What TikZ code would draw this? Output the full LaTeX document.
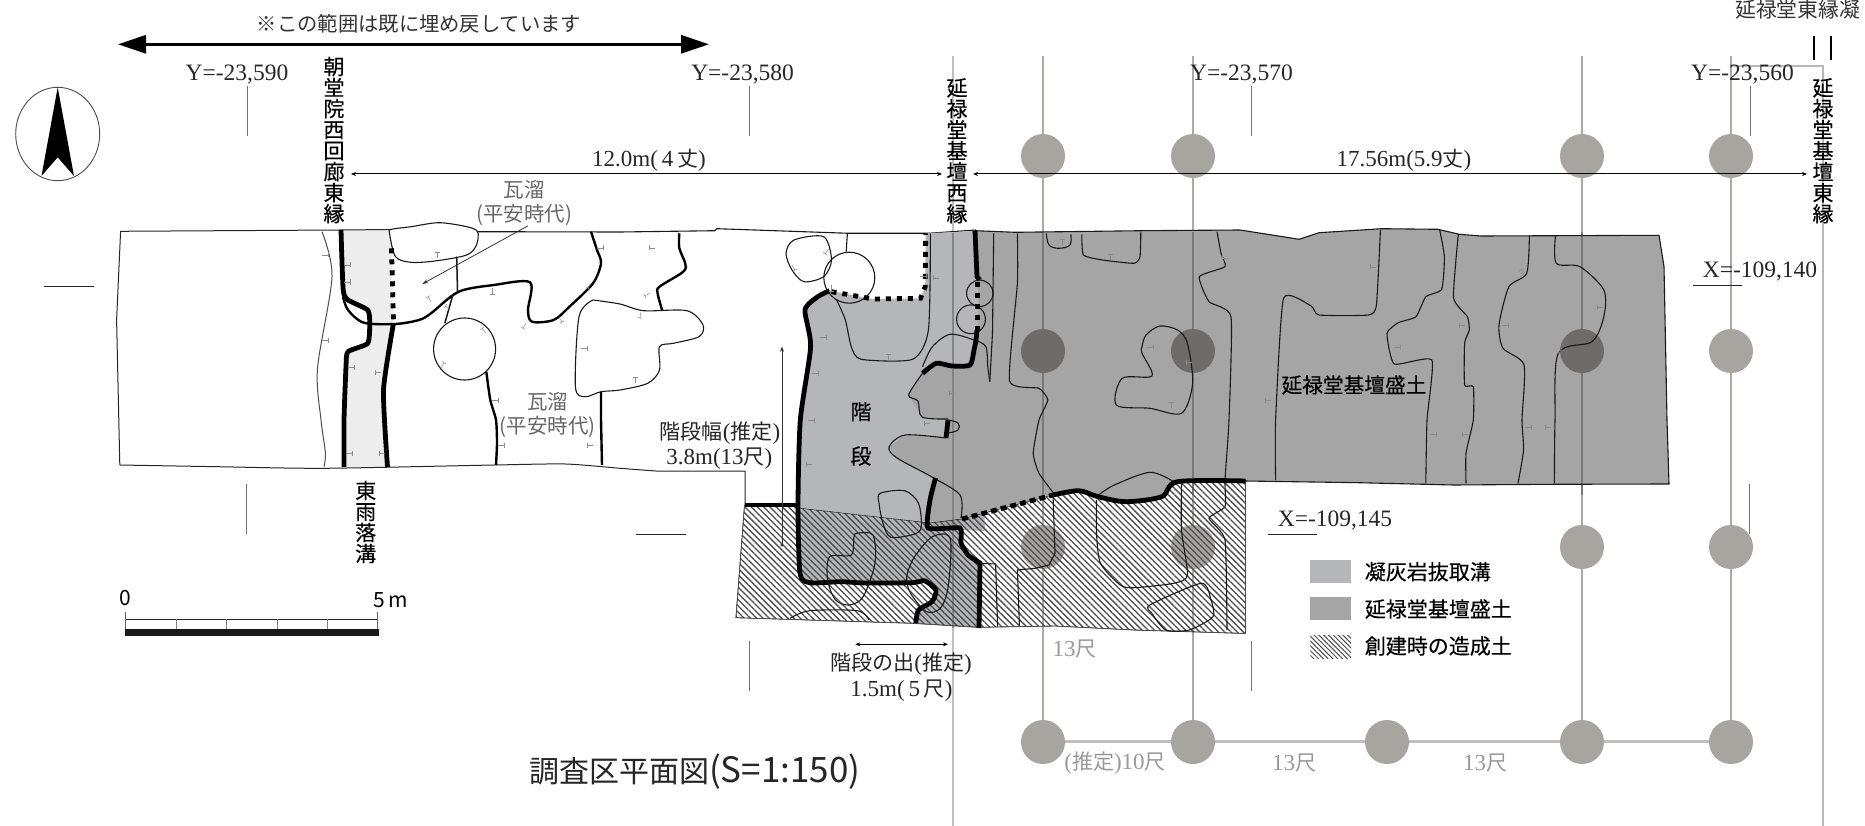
\documentclass[tikz,border=0pt]{standalone}
\usepackage{fontspec}
\setmainfont{Liberation Serif}
\newfontfamily\jp{Noto Sans CJK JP}
\newfontfamily\jpm[FakeBold=0.35]{Noto Sans CJK JP}
\newcommand\jpt[1]{{\jp\fontsize{21}{26}\selectfont #1}}
\usetikzlibrary{arrows.meta,patterns.meta}
\definecolor{stairgray}{HTML}{B5B6B9}
\definecolor{moundgray}{HTML}{A5A5A5}
\definecolor{gutter}{HTML}{ECEDEC}
\definecolor{pillar}{HTML}{A8A5A1}
\definecolor{pillardark}{HTML}{6F6B69}
\definecolor{gridline}{HTML}{ADAAA6}
\definecolor{griddark}{HTML}{7A7876}
\tikzset{
	thinline/.style={line width=1.1pt,color=black!90},
	midline/.style={line width=2.4pt,color=black},
	thickline/.style={line width=4.8pt,color=black},
	dotline/.style={line width=4.8pt,color=black,dash pattern=on 5pt off 6pt},
	grainmark/.style={line width=0.5pt,color=black!45},
	refline/.style={line width=1pt,color=black!55},
	dimline/.style={line width=1pt,{Stealth[length=5pt,width=4pt]}-{Stealth[length=5pt,width=4pt]}},
	gridcol/.style={line width=2.6pt,color=gridline},
	hatched/.style={pattern={Lines[angle=-45,distance=4.4pt,line width=1.3pt]},pattern color=black!70},
	coord/.style={font=\fontsize{23.5}{23.5}\selectfont,inner sep=0pt,color=black!85},
	vlabel/.style={font=\jpm\fontsize{21}{21}\selectfont,align=center,inner sep=0pt},
	glabel/.style={font=\jp\fontsize{20.5}{24}\selectfont,align=center,inner sep=0pt,color=black!60},
	dlabel/.style={font=\fontsize{23}{26}\selectfont,align=center,inner sep=0pt,color=black!85},
	spanlabel/.style={font=\fontsize{23}{23}\selectfont,inner sep=0pt,color=black!40},
	legendtext/.style={font=\jpm\fontsize{21}{21}\selectfont,inner sep=0pt,anchor=west},
}
\begin{document}
\begin{tikzpicture}[x=1pt,y=-1pt]
	\useasboundingbox (0,0) rectangle (1865,826);
	
	%%%%% grid of the hall %%%%%
	\draw[line width=2.2pt,color=black!25] (953,56) -- (953,826);
	\draw[line width=2pt,color=black!28] (1731,66.5) -- (1823,66.5) -- (1823,826);
	\foreach \cx in {1043,1193,1582,1731}
		\draw[gridcol] (\cx,56) -- (\cx,741);
	\draw[line width=3pt,color=black!25] (1043,741) -- (1731,741);
	\foreach \cx in {1043,1193,1582,1731}
		\fill[pillar] (\cx,156) circle[radius=22];
	\foreach \cx/\cy in {1731/351,1043/547,1193/547,1582/547,1731/547,1043/742,1193/742,1387/742,1582/742,1731/742}
		\fill[pillar] (\cx,\cy) circle[radius=22];
	
	%%%%% white part of the plan %%%%%
	\fill[white] (120.6,231) -- (1000,231) -- (1000,470) -- (745,471) -- (655.6,471) -- (620,468.3) -- (119.8,465) -- cycle;
	\fill[gutter] (341,230) -- (391,230) -- (393.5,323) -- (383.5,390) -- (387.5,467) -- (344,467) -- (346,367) -- (348,352) -- (368,343) -- (370,323) -- (368,310) -- (348,300) -- (343,290) -- cycle;
	\draw[color=black!85,line width=1pt] plot[smooth,tension=0.4] coordinates {(119.8,465) (217.5,466.7) (324,468.3) (494.3,465) (565.4,464) (620,468.3) (655.6,471)} -- (745,471) -- (745,505);
	\draw[color=black!85,line width=1pt] (119.8,465) -- (116.6,320) -- (120.6,231.3) -- (340,230) -- (391,229.5);
	\draw[thinline] (477.6,231.7) -- (620,232) -- (715,230.7) -- (717,228.7) -- (849,233.3) -- (928.4,233.3) -- (976,230);
	
	%%%%% stair and mound %%%%%
	\fill[stairgray] (829.6,290.7) -- (873,299) -- (920.5,298.3) -- (925.2,286.7) -- (925.7,233.3) -- (975,231) -- (985,531) -- (928,528) -- (930,523) -- (798,508) -- (800.3,420) -- (810.6,346.7) -- (805,310) -- (817.7,296.7) -- cycle;
	\fill[moundgray] (975,230.7) -- (1015.4,232.3) -- (1142,230.7) -- (1240,230) -- (1299.3,239.3) -- (1319,232.7) -- (1382,228.7) -- (1437.7,229.3) -- (1459.5,234.3) -- (1481,236) -- (1659,235.3) -- (1664,266.7) -- (1667,420) -- (1669,484) -- (1552,484.3) -- (1453.5,485) -- (1358.6,482.7) -- (1245,481) -- (1177.5,481.7) -- (1161.7,496.7) -- (1126,501.7) -- (1098,496.7) -- (1078.7,490.7) -- (1053,495) -- (962,519) -- (960,528) -- (928,528) -- (930,500) -- (935.5,478) -- (932,477) -- (897,458) -- (889,447) -- (905,435) -- (946,438) -- (948,420) -- (922,417) -- (908.6,395) -- (922.5,373.3) -- (936.3,363.3) -- (952,366) -- (970,365) -- (974,350) -- (976,340) -- (978,330) -- (977,277) -- cycle;
	\draw[line width=2.2pt,color=black!48] (953,233) -- (953,500);
	\foreach \cx in {1043,1193,1582}
		\draw[line width=2.6pt,color=griddark] (\cx,232) -- (\cx,495);
	\foreach \cx in {1043,1193,1582}
		\fill[pillardark] (\cx,351) circle[radius=22];
	\draw[thinline] (975,230.7) -- (1015.4,232.3) -- (1142,230.7) -- (1240,230) -- (1299.3,239.3) -- (1319,232.7) -- (1382,228.7) -- (1437.7,229.3) -- (1459.5,234.3) -- (1481,236) -- (1659,235.3) -- (1664,266.7) -- (1667,420) -- (1669,484) -- (1552,484.3) -- (1453.5,485) -- (1358.6,482.7) -- (1245,481);
	
	%%%%% fill made when built %%%%%
	\fill[stairgray] (798,508) -- (930,523) -- (928,528) -- (960,528) -- (961,543) -- (968,555) -- (980,563) -- (979,628) -- (916,623) -- (918.5,610) -- (932,601.7) -- (936,590) -- (924.5,580.7) -- (912.6,582.7) -- (865,583) -- (841,581.7) -- (810,582.7) -- (800,573) -- cycle;
	\draw[line width=2.2pt,color=black!48] (953,500) -- (953,628);
	\draw[hatched] (744.5,505) -- (798,505) -- (798,508) -- (930,523) -- (962,519) -- (1053,495) -- (1078.7,490.7) -- (1098,496.7) -- (1126,501.7) -- (1161.7,496.7) -- (1177.5,481.7) -- (1245.5,481.7) -- (1245.5,633.3) -- (1240,633.3) -- (1134,630) -- (1055,626) -- (979,627.3) -- (912.6,623.3) -- (735.9,617.7) -- cycle;
	\draw[line width=0.8pt,color=black!70] (744.5,505) -- (735.9,617.7) -- (912.6,623.3) -- (979,627.3) -- (1055,626) -- (1134,630) -- (1240,633.3) -- (1245.5,633.3) -- (1245.5,481.7);
	
	%%%%% gutter and tile pits on the west %%%%%
	\draw[color=black!70,line width=1pt] plot[smooth,tension=0.5] coordinates {(322,231.7) (332,276.7) (317.5,368.3) (321,420) (325.4,453) (324,466.7)};
	\draw[thinline,fill=white] plot[smooth cycle,tension=0.5] coordinates {(389.5,233) (395.5,256.7) (411,262.3) (435,261) (466.7,255) (476.5,245) (477.6,231.7) (466.7,226.7) (439,222.7) (411,226.7) (391.5,229.3)};
	\draw[thickline] plot[smooth,tension=0.35] coordinates {(341,230) (343.2,290) (348,300) (367.7,310) (369.7,323.3) (367.7,343.3) (348,351.7) (346,366.7) (344,420) (344,467)};
	\draw[thickline] plot[smooth,tension=0.35] coordinates {(393.5,323.3) (383.5,390) (387.5,467)};
	\draw[dotline] (391.5,248.3) -- (393.5,321.7);
	\draw[midline] plot[smooth,tension=0.5] coordinates {(343,296.7) (348,310) (363.8,322.7) (395.4,324) (419,320) (431,313.3) (458.7,291.7) (494,285) (530,282.3) (528,310) (532,321.7) (553.6,320) (569.4,306.7) (593,283.3) (601,263.3) (597,250) (591,231.7)};
	\draw[thinline,line width=1.5pt] (456.7,256.7) -- (457.5,291.7);
	\draw[thinline,line width=1.5pt] (452.8,295) -- (444.8,323.3);
	\draw[midline] plot[smooth,tension=0.4] coordinates {(486.3,371.7) (490.3,400) (496,420) (497,443) (496,465)};
	\draw[midline] (601,392) -- (601,420) -- (602,465);
	\draw[midline] plot[smooth,tension=0.5] coordinates {(679.3,233.3) (679.3,248) (685.2,263.3) (683.3,271.7) (659.5,286.7) (657.6,293.3) (662.3,310.7)};
	\draw[thinline,fill=white] (464.6,349) circle[radius=31];
	\draw[thinline] plot[smooth,tension=0.5] coordinates {(593,300) (579,316.7) (575.4,386.7) (585,396.7) (601,391.7) (620,390) (647.7,383.3) (659.5,370) (659.5,346.7) (673.4,343.3) (699,336.7) (703,325) (687,310.7) (643.7,310.7) (620,304) (593,300)};
	
	%%%%% pits at the stair %%%%%
	\draw[thinline] plot[smooth cycle,tension=0.5] coordinates {(786,253.3) (794,240) (823.6,236.7) (831.5,260) (823.6,276.7) (803.9,281.7) (792,270)};
	\draw[thinline] (847.4,233.3) -- (846.2,251.7);
	\draw[thinline] (849.3,277.7) circle[radius=25.5];
	\draw[thinline] plot[smooth,tension=0.4] coordinates {(836.7,300) (845.4,320) (851.3,346.7) (861.2,359.3) (912.6,359.3) (928.4,330) (930.4,233.3)};
	\draw[dotline] (831.5,291.7) -- (873,299) -- (920.5,298.3) -- (925.2,286.7) -- (925.7,233.3);
	\draw[thickline] plot[smooth,tension=0.4] coordinates {(829.6,290.7) (817.7,296.7) (805,310) (810.6,346.7) (800.3,420) (798,505) (800,573) (810,582.7) (841,581.7) (865,583) (912.6,582.7) (924.5,580.7) (936,590) (932,601.7) (918.5,610) (915.8,623)};
	\draw[thickline] (744.5,505) -- (798,505);
	\draw[thickline] (975,230.7) -- (977,276.7) -- (979.8,280);
	\draw[thinline] (979.8,293.3) circle[radius=13.2];
	\draw[thinline] (971,319.3) circle[radius=14.4];
	\draw[dotline] (977.8,281.7) -- (977.8,330);
	\draw[thinline] plot[smooth,tension=0.5] coordinates {(922.5,366.7) (932.4,346.7) (950.2,334.3) (974,340) (985.8,346.7) (987.8,366.7) (989.8,381.7)};
	\draw[thinline] (993.7,233.3) -- (992.5,333) -- (989.8,381.7);
	\draw[thickline] plot[smooth,tension=0.4] coordinates {(977,330) (976,340) (974,350) (970,365) (952,366) (936.3,363.3) (922.5,373.3)};
	\draw[thinline] plot[smooth,tension=0.5] coordinates {(922.5,373.3) (908.6,395) (918,401) (922,417) (948,419)};
	\draw[thickline] (948,420) -- (946,438);
	\draw[thinline] plot[smooth,tension=0.7] coordinates {(948,420) (958,423) (958,430) (948,433)};
	\draw[thinline] plot[smooth,tension=0.5] coordinates {(946,438) (905,435) (889,447) (897,458) (932,477) (960,495) (961,518)};
	\draw[thickline] plot[smooth,tension=0.3] coordinates {(935.5,478) (930,500) (928,528) (960,528) (961,543) (968,555) (980,563)} -- (979,628);
	\draw[thinline] plot[smooth cycle,tension=0.5] coordinates {(857.2,533.3) (873,535) (875,563.3) (863.2,596.7) (849.3,605) (835.5,600) (827.6,580) (829.6,556.7) (851.3,555) (854,536.7)};
	\draw[thinline] plot[smooth cycle,tension=0.5] coordinates {(880.2,493.3) (904.7,490.7) (918.5,503.3) (921.3,526.7) (914.6,534) (890.9,537.3) (883,523.3) (879,503.3)};
	\draw[thinline] plot[smooth cycle,tension=0.5] coordinates {(932.4,536.7) (950.2,538.3) (948.2,586.7) (940.3,608.3) (926.4,611.7) (910.6,593.3) (906.7,576.7) (914.6,556.7)};
	\draw[thinline] plot[smooth,tension=0.5] coordinates {(790,618.3) (809.8,610.7) (857.2,610.7) (869,620)};
	
	%%%%% lines on the mound %%%%%
	\draw[thinline] plot[smooth,tension=0.3] coordinates {(1017.4,233.3) (1017.4,283.3) (1009.5,381) (1039,388.3) (1047.8,400) (1039,420) (1033.2,453.3) (1039,473.3) (1055,495)};
	\draw[thinline] plot[smooth,tension=0.6] coordinates {(1046.3,233.3) (1049,245) (1058.9,248.3) (1070,245) (1070.8,234.3)};
	\draw[thinline] plot[smooth,tension=0.3] coordinates {(1081.8,234.3) (1083.4,255) (1102.4,260) (1134,263.3) (1140,256.7) (1140.8,231.7)};
	\draw[thinline] plot[smooth cycle,tension=0.5] coordinates {(1142,346.7) (1146,335) (1159.7,326) (1177.5,330) (1187.4,343.3) (1192.6,383.3) (1181.5,413.3) (1150,408.3) (1116.3,405) (1122.2,378.3) (1151.9,376) (1142,353.3)};
	\draw[thinline] plot[smooth,tension=0.3] coordinates {(1217,231.7) (1221,253.3) (1225,266.7) (1199.3,276.7) (1209,301.7) (1231,316.7) (1229,420) (1225,480) (1225,506.7) (1209,518.3) (1225,540) (1227,630)};
	\draw[thinline] plot[smooth,tension=0.3] coordinates {(1380.4,230) (1376.4,305) (1368.5,315) (1319,315) (1311.2,306) (1283.5,298.3) (1275.6,420) (1275.6,480)};
	\draw[thinline] plot[smooth,tension=0.3] coordinates {(1439.7,230) (1444.4,256.7) (1441.7,289.3) (1425.8,296.7) (1416,316.7) (1398.2,322.7) (1387,333.3) (1394.2,364) (1431.8,360) (1427,420) (1425.8,483.3)};
	\draw[thinline] plot[smooth,tension=0.3] coordinates {(1458.3,234.3) (1453.5,297.7) (1467.4,316.7) (1469.3,330) (1464.6,343.3) (1464.6,385) (1473.3,386.7) (1473.3,420) (1466,453.3) (1466,483.3)};
	\draw[thinline] plot[smooth,tension=0.4] coordinates {(1529.4,235.3) (1526.7,273.3) (1508.9,286.7) (1499,325) (1503,348.3) (1524,365) (1522,420) (1523.5,450) (1518,483.3)};
	\draw[thinline] plot[smooth,tension=0.5] coordinates {(1555.5,235.3) (1556.3,263.3) (1580,266.7) (1603.8,290) (1603.8,316.7) (1592,341.7) (1558.3,353.3) (1555,420) (1554.4,483.3)};
	
	%%%%% lines in the fill %%%%%
	\draw[dotline,dash pattern=on 6pt off 4pt] (962,519) -- (1053,495);
	\draw[thickline] plot[smooth,tension=0.5] coordinates {(1053,495) (1078.7,490.7) (1098,496.7) (1126,501.7) (1161.7,496.7) (1177.5,481.7) (1245.5,481)};
	\draw[thinline] plot[smooth,tension=0.5] coordinates {(1098.5,495) (1114.3,485) (1149.9,472.3) (1173.6,481.7)};
	\draw[thinline] (979.8,563.3) -- (995.6,564) -- (997.6,626.7);
	\draw[thinline] (1019.4,625) -- (1017.4,570) -- (1035,568.3) -- (1049,565) -- (1055,553.3) -- (1053,495);
	\draw[thinline] plot[smooth,tension=0.4] coordinates {(1096.5,500) (1096.5,533.3) (1100.4,563.3) (1120.2,585) (1134,587.7) (1173.6,583.3) (1187.4,575) (1181.5,530) (1181.5,483.3)};
	\draw[thinline] plot[smooth cycle,tension=0.4] coordinates {(1149.9,605) (1201.3,583.3) (1211,600) (1213,616.7) (1189.4,630) (1165.7,630) (1151.9,613.3)};
	
	%%%%% small marks on the cut edges %%%%%
	\foreach \gx/\gy/\ga in {322/255/0,322/340/0,344/265/0,344/282/0,348/367/0,381/372/180,437/258/270,431/302/240,450/310/220,492/288/90,526/323/120,559/317/60,591/283/120,597/248/0,581/348/0,486/333/230,441/368/300,492/400/0,498/445/0,593/445/180,346/453/0,385/453/180,655/248/180,650/293/150,641/312/100,635/383/270,829/249/130,792/265/60,831/285/90,920/276/0,939/278/180,820/337/0,888/360/270,812/373/0,808/420/0,812/464/180,955/393/180,930/423/180,1062/245/270,1110/260/270,1147/347/0,1192/362/180,1228/258/180,1171/408/270,1376/267/180,1271/400/180,1394/347/0,1465/325/180,1502/325/0,1524/275/240,1603/307/180,1562/348/120,1430/434/0,1468/434/180,1525/427/0,1551/427/180}
		\draw[grainmark] (\gx,\gy) -- ++(\ga:6) +(\ga+90:-2.5) -- +(\ga+90:2.5);
	
	%%%%% reference lines and coordinates %%%%%
	\foreach \rx in {247,749.7,1251,1750}
		\draw[refline] (\rx,86) -- (\rx,136);
	\foreach \rx/\ry in {246.7/484,749.7/640.7,1251/640.7,1749.7/484}
		\draw[refline] (\rx,\ry) -- (\rx,\ry+50);
	\draw[line width=0.9pt,color=black!85] (43.5,286) -- (94,286);
	\draw[line width=0.9pt,color=black!85] (1692.7,285.7) -- (1742,285.7);
	\draw[line width=0.9pt,color=black!85] (635.8,534.5) -- (686.4,534.5);
	\draw[line width=0.9pt,color=black!85] (1267.7,534.3) -- (1317,534.3);
	\node[coord] (ya) at (237,74) {Y=-23,590};
	\node[coord] (yb) at (742.6,74) {Y=-23,580};
	\node[coord] (yc) at (1241.5,74) {Y=-23,570};
	\node[coord] (yd) at (1742.5,74) {Y=-23,560};
	\node[coord] (xa) at (1760,271.5) {X=-109,140};
	\node[coord] (xb) at (1335,520) {X=-109,145};
	
	%%%%% north %%%%%
	\draw[line width=0.9pt,color=black!70] (57.7,134) ellipse[x radius=42,y radius=46.7];
	\fill[black] (57.7,87.3) -- (74,176) -- (57.7,157.3) -- (41.5,176) -- cycle;
	
	%%%%% top range %%%%%
	\draw[line width=3pt,{Triangle[length=28pt,width=18pt]}-{Triangle[length=28pt,width=18pt]}] (118,44.3) -- (709,44.3);
	\node[font=\jp\fontsize{20.3}{20.3}\selectfont,inner sep=0pt,color=black!80] (range) at (419,24) {※この範囲は既に埋め戻しています};
	
	%%%%% edge labels %%%%%
	\node[vlabel,anchor=north] (corridor) at (334,56.7) {朝\\堂\\院\\西\\回\\廊\\東\\縁};
	\node[vlabel,anchor=north] (westedge) at (957,78) {延\\禄\\堂\\基\\壇\\西\\縁};
	\node[vlabel,anchor=north] (eastedge) at (1823,78) {延\\禄\\堂\\基\\壇\\東\\縁};
	\node[vlabel,anchor=north] (ditch) at (365.7,480.7) {東\\雨\\落\\溝};
	\node[font=\jp\fontsize{20.8}{20.8}\selectfont,inner sep=0pt,anchor=west,color=black!80] (stone) at (1735,10) {延禄堂東縁凝};
	\draw[line width=2.7pt] (1814,36) -- (1814,60);
	\draw[line width=2.7pt] (1831,36) -- (1831,60);
	
	%%%%% measures %%%%%
	\draw[dimline] (351,174) -- (942,174);
	\draw[dimline] (973,174) -- (1807,174);
	\node[dlabel] (spana) at (649,160) {12.0m(\,4\,\jpt{丈})};
	\node[dlabel] (spanb) at (1404,160) {17.56m(5.9\jpt{丈})};
	\draw[line width=1pt,color=black!80,-{Stealth[length=5pt,width=4pt]}] (782,545) -- (782,346.7);
	\fill[black!80] (782,545) circle[radius=1.6];
	\node[dlabel] (widtha) at (720,432.7) {\jpt{階段幅}(\jpt{推定})};
	\node[dlabel] (widthb) at (719.4,458.3) {3.8m(13\jpt{尺})};
	\draw[dimline] (855.3,644.3) -- (948,644.3);
	\node[dlabel] (deptha) at (901,664.3) {\jpt{階段の出}(\jpt{推定})};
	\node[dlabel] (depthb) at (901.5,690.7) {1.5m(\,5\,\jpt{尺})};
	
	%%%%% grey labels %%%%%
	\node[glabel] (pita) at (524,203) {瓦溜\\(平安時代)};
	\draw[line width=0.8pt,color=black!80,-{Stealth[length=6pt,width=4pt]}] (pita.south) ++(4,0) -- (422.3,284);
	\node[glabel] (pitb) at (547.6,415) {瓦溜\\(平安時代)};
	\node[spanlabel] (spanc) at (1074.7,649.3) {13\jpt{尺}};
	\node[spanlabel] (spand) at (1115,763.3) {(\jpt{推定})10\jpt{尺}};
	\node[spanlabel] (spane) at (1294,763.3) {13\jpt{尺}};
	\node[spanlabel] (spanf) at (1485,763.3) {13\jpt{尺}};
	
	%%%%% plan labels %%%%%
	\node[font=\jpm\fontsize{21}{21}\selectfont,inner sep=0pt] (stepa) at (861,411.7) {階};
	\node[font=\jpm\fontsize{21}{21}\selectfont,inner sep=0pt] (stepb) at (861,456) {段};
	\node[font=\jpm\fontsize{20.7}{20.7}\selectfont,inner sep=0pt] (mound) at (1354,385) {延禄堂基壇盛土};
	
	%%%%% legend %%%%%
	\fill[stairgray] (1310.4,560) rectangle (1351,582.7);
	\fill[moundgray] (1310.4,597.3) rectangle (1351,620);
	\path[pattern={Lines[angle=-45,distance=3.4pt,line width=1pt]},pattern color=black!70] (1310.4,635) rectangle (1351,658);
	\node[legendtext] (lega) at (1364.6,571.7) {凝灰岩抜取溝};
	\node[legendtext] (legb) at (1364.6,609) {延禄堂基壇盛土};
	\node[legendtext] (legc) at (1364.6,646) {創建時の造成土};
	
	%%%%% scale %%%%%
	\draw[line width=1pt,color=black!85] (125.7,619.3) -- (377.6,619.3);
	\draw[line width=1pt,color=black!60] (125.7,611.7) -- (125.7,630);
	\draw[line width=1pt,color=black!60] (377.6,611.7) -- (377.6,630);
	\foreach \sx in {176,226.6,277.2,327.4}
		\draw[line width=1pt,color=black!50] (\sx,619.3) -- (\sx,630);
	\fill[black!90] (125,629) rectangle (378.5,636);
	\node[font=\jp\fontsize{21}{21}\selectfont,inner sep=0pt] (scalea) at (125,598.3) {0};
	\node[font=\jp\fontsize{21}{21}\selectfont,inner sep=0pt] (scaleb) at (391,600) {5\,m};
	
	%%%%% title %%%%%
	\node[font=\jp\fontsize{30}{30}\selectfont,inner sep=0pt,color=black!85] (title) at (694.7,771.7) {調査区平面図{\fontsize{35}{35}\selectfont (S=1:150)}};
\end{tikzpicture}
\end{document}
